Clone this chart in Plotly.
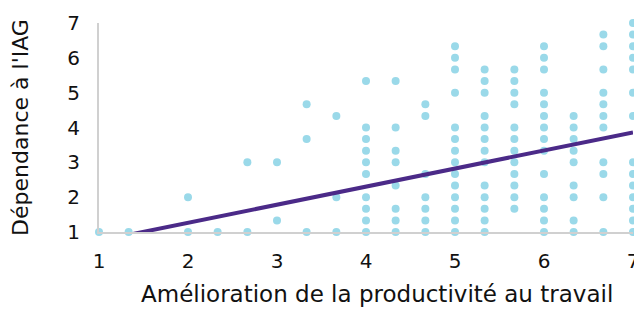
import plotly.graph_objects as go

# Scatter data (x = productivity improvement, y = dependence on AI)
x_vals = (
    [1.0] + [1.333] + [2.0] * 2 + [2.333] + [2.667] * 2 + [3.0] * 2
    + [3.333] * 3 + [3.667] * 3 + [4.0] * 10 + [4.333] * 8 + [4.667] * 7
    + [5.0] * 14 + [5.333] * 13 + [5.667] * 12 + [6.0] * 14 + [6.333] * 9
    + [6.667] * 11 + [7.0] * 14
)
y_vals = (
    [1.0]
    + [1.0]
    + [1.0, 2.0]
    + [1.0]
    + [1.0, 3.0]
    + [1.333, 3.0]
    + [1.0, 3.667, 4.667]
    + [1.0, 2.0, 4.333]
    + [1.0, 1.333, 1.667, 2.0, 2.667, 3.0, 3.333, 3.667, 4.0, 5.333]
    + [1.0, 1.333, 1.667, 2.333, 3.0, 3.333, 4.0, 5.333]
    + [1.0, 1.333, 1.667, 2.0, 2.667, 4.333, 4.667]
    + [1.0, 1.333, 1.667, 2.0, 2.333, 2.667, 3.0, 3.333, 3.667, 4.0, 5.0, 5.667, 6.0, 6.333]
    + [1.0, 1.333, 1.667, 2.0, 2.333, 3.0, 3.333, 3.667, 4.0, 4.333, 5.0, 5.333, 5.667]
    + [1.667, 2.0, 2.333, 2.667, 3.0, 3.333, 3.667, 4.0, 4.667, 5.0, 5.333, 5.667]
    + [1.0, 1.333, 1.667, 2.0, 2.667, 3.333, 3.667, 4.0, 4.333, 4.667, 5.0, 5.667, 6.0, 6.333]
    + [1.0, 1.333, 2.0, 2.333, 3.0, 3.333, 3.667, 4.0, 4.333]
    + [1.0, 2.0, 2.667, 3.0, 4.0, 4.333, 4.667, 5.0, 5.667, 6.333, 6.667]
    + [1.0, 1.333, 1.667, 2.0, 2.333, 2.667, 3.0, 4.333, 5.0, 5.667, 6.0, 6.333, 6.667, 7.0]
)

# Trend line endpoints
trend_x = [1.0, 7.0]
trend_y = [0.745, 3.86]

tick_vals = [1, 2, 3, 4, 5, 6, 7]
x_title = "Amélioration de la productivité au travail"
y_title = "Dépendance à l'IAG"

FONT = "'DejaVu Sans', sans-serif"

fig = go.Figure()
fig.add_trace(go.Scatter(
    x=x_vals, y=y_vals, mode="markers",
    marker=dict(color="#9ad9e9", size=8, line=dict(width=0)),
    cliponaxis=False, showlegend=False, hoverinfo="skip",
))
fig.add_trace(go.Scatter(
    x=trend_x, y=trend_y, mode="lines",
    line=dict(color="#4b2a88", width=4),
    showlegend=False, hoverinfo="skip",
))

# The page has an 8px body margin, so the figure is sized to fit the window.
fig.update_layout(
    width=634, height=301,
    margin=dict(l=91, r=9, t=15, b=77),
    paper_bgcolor="white", plot_bgcolor="white",
    font=dict(family=FONT, color="#111111", size=20),
    xaxis=dict(
        range=[1, 7], tickvals=tick_vals, showgrid=False, zeroline=False,
        showline=True, linecolor="#d0d0d0", linewidth=2, ticks="",
        tickfont=dict(size=20), ticklabelstandoff=10, automargin=False,
    ),
    yaxis=dict(
        range=[1, 7], tickvals=tick_vals, showgrid=False, zeroline=False,
        showline=True, linecolor="#d0d0d0", linewidth=2, ticks="",
        tickfont=dict(size=20), ticklabelstandoff=13, automargin=False,
        title=dict(text=y_title, font=dict(size=22), standoff=36),
    ),
    annotations=[dict(
        text=x_title, xref="paper", yref="paper", x=0.5206, y=-0.299,
        xanchor="center", yanchor="middle", showarrow=False,
        font=dict(size=23, family=FONT, color="#111111"),
    )],
)

fig.write_html("out.html")
